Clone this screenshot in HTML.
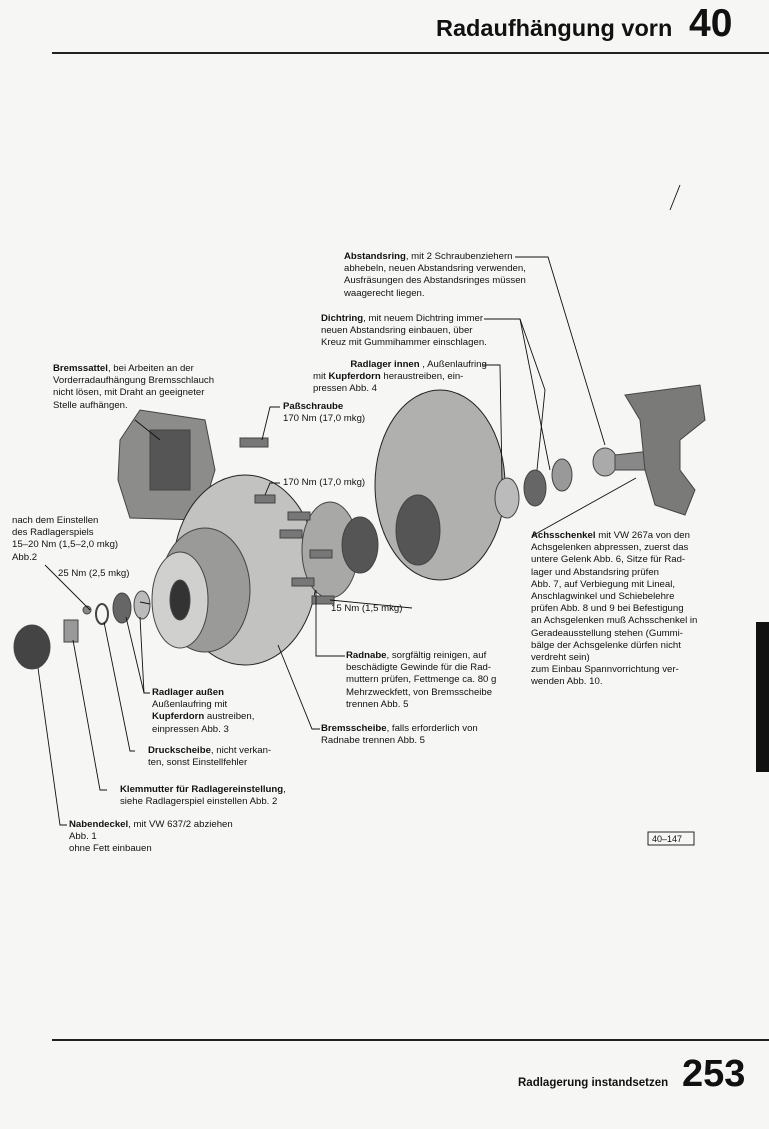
<!DOCTYPE html>
<html><head><meta charset="utf-8"><style>
body{margin:0;width:769px;height:1129px;background:#f6f6f4;position:relative;overflow:hidden;font-family:"Liberation Sans",sans-serif;color:#111}
.t{position:absolute;font-size:9.6px;line-height:12.2px;white-space:nowrap}
b{font-weight:bold}
</style></head><body>
<div style="position:absolute;left:436px;top:15px;font-size:23.5px;font-weight:bold">Radaufhängung vorn</div>
<div style="position:absolute;left:689px;top:2px;font-size:39px;font-weight:bold">40</div>
<div style="position:absolute;left:52px;top:52px;width:717px;height:2px;background:#222"></div>
<div style="position:absolute;left:52px;top:1039px;width:717px;height:2px;background:#222"></div>
<div style="position:absolute;left:518px;top:1077px;font-size:11.5px;font-weight:bold">Radlagerung instandsetzen</div>
<div style="position:absolute;left:682px;top:1053px;font-size:38px;font-weight:bold">253</div>
<div style="position:absolute;left:756px;top:622px;width:13px;height:150px;background:#111"></div>

<svg width="769" height="1129" style="position:absolute;left:0;top:0">
<g fill="#9a9a98" stroke="#444" stroke-width="1">
<path d="M120 440 L140 410 L205 420 L215 470 L200 520 L130 518 L118 480Z" fill="#8c8c8a"/>
<rect x="150" y="430" width="40" height="60" fill="#555"/>
<ellipse cx="440" cy="485" rx="65" ry="95" fill="#b0b0ae" stroke="#222"/>
<ellipse cx="418" cy="530" rx="22" ry="35" fill="#555"/>
<ellipse cx="245" cy="570" rx="72" ry="95" fill="#c2c2c0" stroke="#222"/>
<ellipse cx="205" cy="590" rx="45" ry="62" fill="#9a9a98"/>
<ellipse cx="180" cy="600" rx="28" ry="48" fill="#d0d0ce"/>
<ellipse cx="180" cy="600" rx="10" ry="20" fill="#333"/>
<ellipse cx="330" cy="550" rx="28" ry="48" fill="#a8a8a6"/>
<ellipse cx="360" cy="545" rx="18" ry="28" fill="#555"/>
<rect x="240" y="438" width="28" height="9" fill="#777"/>
<rect x="255" y="495" width="20" height="8" fill="#777"/>
<rect x="288" y="512" width="22" height="8" fill="#777"/>
<rect x="280" y="530" width="22" height="8" fill="#777"/>
<rect x="310" y="550" width="22" height="8" fill="#777"/>
<rect x="292" y="578" width="22" height="8" fill="#777"/>
<rect x="312" y="596" width="22" height="8" fill="#777"/>
<ellipse cx="507" cy="498" rx="12" ry="20" fill="#bbb"/>
<ellipse cx="535" cy="488" rx="11" ry="18" fill="#666"/>
<ellipse cx="562" cy="475" rx="10" ry="16" fill="#999"/>
<ellipse cx="605" cy="462" rx="12" ry="14" fill="#aaa"/>
<path d="M615 455 L660 450 L655 470 L615 470Z" fill="#888"/>
<path d="M625 395 L700 385 L705 420 L680 440 L680 470 L695 490 L685 515 L655 505 L645 470 L640 420Z" fill="#7a7a78"/>
<ellipse cx="32" cy="647" rx="18" ry="22" fill="#444"/>
<rect x="64" y="620" width="14" height="22" fill="#999"/>
<ellipse cx="102" cy="614" rx="6" ry="10" fill="none" stroke-width="2"/>
<ellipse cx="122" cy="608" rx="9" ry="15" fill="#666"/>
<ellipse cx="142" cy="605" rx="8" ry="14" fill="#bbb"/>
<circle cx="87" cy="610" r="4" fill="#888"/>
</g>
<g stroke="#111" stroke-width="0.9" fill="none">
<polyline points="515,257 548,257 605,445"/>
<polyline points="484,319 520,319 550,470"/>
<polyline points="520,319 545,390 537,470"/>
<polyline points="483,365 500,365 502,480"/>
<polyline points="135,420 160,440"/>
<polyline points="280,407 270,407 262,440"/>
<polyline points="280,483 270,483 265,495"/>
<polyline points="140,602 150,604"/>
<polyline points="412,608 330,600"/>
<polyline points="345,656 316,656 316,590"/>
<polyline points="320,729 312,729 278,645"/>
<polyline points="150,693 144,693 140,617"/>
<polyline points="150,693 144,693 126,617"/>
<polyline points="135,751 130,751 104,622"/>
<polyline points="107,790 100,790 73,640"/>
<polyline points="67,825 60,825 38,668"/>
<polyline points="45,565 90,610"/>
<polyline points="532,536 636,478"/>
<line x1="680" y1="185" x2="670" y2="210"/>
<rect x="648" y="832" width="46" height="13"/>
</g>
</svg>

<div class="t" style="left:344px;top:251px"><b>Abstandsring</b>, mit 2 Schraubenziehern<br>abhebeln, neuen Abstandsring verwenden,<br>Ausfräsungen des Abstandsringes müssen<br>waagerecht liegen.</div>
<div class="t" style="left:321px;top:313px"><b>Dichtring</b>, mit neuem Dichtring immer<br>neuen Abstandsring einbauen, über<br>Kreuz mit Gummihammer einschlagen.</div>
<div class="t" style="left:313px;top:359px">&nbsp;&nbsp;&nbsp;&nbsp;&nbsp;&nbsp;&nbsp;&nbsp;&nbsp;&nbsp;&nbsp;&nbsp;&nbsp;&nbsp;<b>Radlager innen</b> , Außenlaufring<br>mit <b>Kupferdorn</b> heraustreiben, ein-<br>pressen Abb. 4</div>
<div class="t" style="left:53px;top:363px"><b>Bremssattel</b>, bei Arbeiten an der<br>Vorderradaufhängung Bremsschlauch<br>nicht lösen, mit Draht an geeigneter<br>Stelle aufhängen.</div>
<div class="t" style="left:283px;top:401px"><b>Paßschraube</b><br>170 Nm (17,0 mkg)</div>
<div class="t" style="left:283px;top:477px">170 Nm (17,0 mkg)</div>
<div class="t" style="left:12px;top:515px">nach dem Einstellen<br>des Radlagerspiels<br>15–20 Nm (1,5–2,0 mkg)<br>Abb.2</div>
<div class="t" style="left:58px;top:568px">25 Nm (2,5 mkg)</div>
<div class="t" style="left:331px;top:603px">15 Nm (1,5 mkg)</div>
<div class="t" style="left:531px;top:530px"><b>Achsschenkel</b> mit VW 267a von den<br>Achsgelenken abpressen, zuerst das<br>untere Gelenk Abb. 6, Sitze für Rad-<br>lager und Abstandsring prüfen<br>Abb. 7, auf Verbiegung mit Lineal,<br>Anschlagwinkel und Schiebelehre<br>prüfen Abb. 8 und 9 bei Befestigung<br>an Achsgelenken muß Achsschenkel in<br>Geradeausstellung stehen (Gummi-<br>bälge der Achsgelenke dürfen nicht<br>verdreht sein)<br>zum Einbau Spannvorrichtung ver-<br>wenden Abb. 10.</div>
<div class="t" style="left:346px;top:650px"><b>Radnabe</b>, sorgfältig reinigen, auf<br>beschädigte Gewinde für die Rad-<br>muttern prüfen, Fettmenge ca. 80 g<br>Mehrzweckfett, von Bremsscheibe<br>trennen Abb. 5</div>
<div class="t" style="left:152px;top:687px"><b>Radlager außen</b><br>Außenlaufring mit<br><b>Kupferdorn</b> austreiben,<br>einpressen Abb. 3</div>
<div class="t" style="left:321px;top:723px"><b>Bremsscheibe</b>, falls erforderlich von<br>Radnabe trennen Abb. 5</div>
<div class="t" style="left:148px;top:745px"><b>Druckscheibe</b>, nicht verkan-<br>ten, sonst Einstellfehler</div>
<div class="t" style="left:120px;top:784px"><b>Klemmutter für Radlagereinstellung</b>,<br>siehe Radlagerspiel einstellen Abb. 2</div>
<div class="t" style="left:69px;top:819px"><b>Nabendeckel</b>, mit VW 637/2 abziehen<br>Abb. 1<br>ohne Fett einbauen</div>
<div class="t" style="left:652px;top:833px;font-size:9px">40–147</div>
</body></html>
